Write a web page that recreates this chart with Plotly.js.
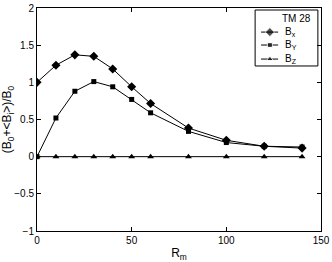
<!DOCTYPE html>
<html><head><meta charset="utf-8">
<script src="https://cdn.plot.ly/plotly-3.0.1.min.js"></script>
<style>html,body{margin:0;padding:0;background:#fff}#c{width:332px;height:262px}</style>
</head><body><div id="c"></div>
<script>
const rm = [0, 10, 20, 30, 40, 50, 60, 80, 100, 120, 140];
const bx = [1.0, 1.23, 1.37, 1.35, 1.18, 0.94, 0.715, 0.385, 0.22, 0.14, 0.115];
const by = [0.0, 0.52, 0.88, 1.01, 0.94, 0.77, 0.59, 0.34, 0.19, 0.14, 0.13];
const bz = [0, 0, 0, 0, 0, 0, 0, 0, 0, 0, 0];
const names = ['B<sub>x</sub>', 'B<sub>Y</sub>', 'B<sub>Z</sub>'];
const legendTitle = 'TM 28';
const symbols = ['diamond', 'square', 'triangle-up'];
const sizes = [7, 5, 6];
const font = {family: 'Liberation Sans, Arial, sans-serif', size: 10, color: '#000'};

const data = [bx, by, bz].map((y, i) => ({
  x: rm, y: y, name: names[i], type: 'scatter', mode: 'lines+markers', showlegend: false,
  line: {color: '#000', width: 1},
  marker: {symbol: symbols[i], size: sizes[i], color: '#000'}
}));

// custom compact legend (paper-fraction positions on an overlay axis)
const legX0 = 0.789, legX1 = 0.849, legXm = 0.820, legTextX = 0.866;
const legY = [0.892, 0.834, 0.771];
data.push({
  x: legY.map(() => legXm), y: legY, xaxis: 'x2', yaxis: 'y2', type: 'scatter', mode: 'markers',
  showlegend: false, hoverinfo: 'skip',
  marker: {symbol: symbols, size: sizes, color: '#000'}
});
const shapes = [{type: 'rect', xref: 'paper', yref: 'paper', x0: 0.768, x1: 0.989, y0: 0.740, y1: 0.991,
  line: {color: '#000', width: 1}, fillcolor: '#fff', layer: 'below'}];
legY.forEach(y => shapes.push({type: 'line', xref: 'paper', yref: 'paper', x0: legX0, x1: legX1, y0: y, y1: y,
  line: {color: '#000', width: 1}, layer: 'below'}));
const annotations = legY.map((y, i) => ({xref: 'paper', yref: 'paper', x: legTextX, y: y, xanchor: 'left', yanchor: 'middle',
  text: names[i], showarrow: false, font: font}));
annotations.push({xref: 'paper', yref: 'paper', x: 0.972, y: 0.951, xanchor: 'right', yanchor: 'middle',
  text: legendTitle, showarrow: false, font: font});

const ax = {
  showline: true, mirror: 'ticks', linecolor: '#000', linewidth: 1,
  ticks: 'inside', ticklen: 4, tickcolor: '#000', showgrid: false, zeroline: false,
  tickfont: font
};
const layout = {
  width: 332, height: 262, margin: {l: 37, r: 11, t: 8, b: 31},
  paper_bgcolor: '#fff', plot_bgcolor: '#fff', font: font, showlegend: false,
  xaxis: Object.assign({}, ax, {range: [0, 150], tickvals: [0, 50, 100, 150],
    title: {text: 'R<sub>m</sub>', font: {family: font.family, size: 12, color: '#000'}, standoff: 8}}),
  yaxis: Object.assign({}, ax, {range: [-1, 2], tickvals: [-1, -0.5, 0, 0.5, 1, 1.5, 2],
    ticktext: ['−1', '−0.5', '0', '0.5', '1', '1.5', '2'],
    title: {text: '(B<sub>0</sub>+<B<sub>i</sub>>)/B<sub>0</sub>', font: {family: font.family, size: 12, color: '#000'}, standoff: 4}}),
  xaxis2: {overlaying: 'x', range: [0, 1], visible: false, fixedrange: true},
  yaxis2: {overlaying: 'y', range: [0, 1], visible: false, fixedrange: true},
  shapes: shapes, annotations: annotations
};
Plotly.newPlot('c', data, layout, {staticPlot: true});
</script></body></html>
